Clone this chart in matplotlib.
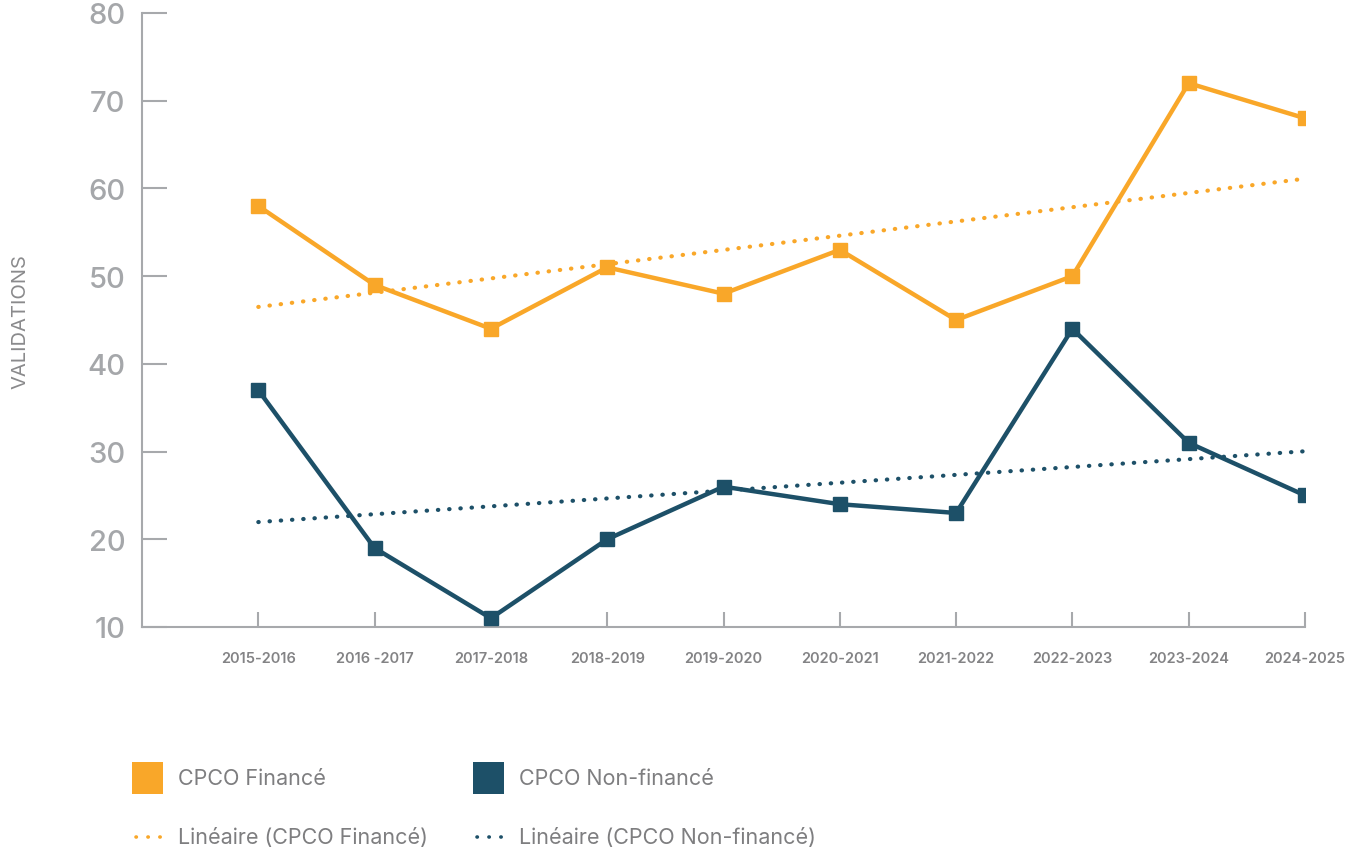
import matplotlib.pyplot as plt
import numpy as np
from matplotlib.patches import Rectangle
from matplotlib.lines import Line2D

# Données
annees = ['2015-2016', '2016 -2017', '2017-2018', '2018-2019', '2019-2020',
          '2020-2021', '2021-2022', '2022-2023', '2023-2024', '2024-2025']
finance = [58, 49, 44, 51, 48, 53, 45, 50, 72, 68]
non_finance = [37, 19, 11, 20, 26, 24, 23, 44, 31, 25]
y_ticks = [10, 20, 30, 40, 50, 60, 70, 80]

ORANGE = '#F9A729'
BLEU = '#1D5068'
GRIS = '#A7A9AC'

W, H = 1352, 854
fig = plt.figure(figsize=(W / 100, H / 100), dpi=100)
ax = fig.add_axes([142 / W, 1 - 628 / H, (1305 - 142) / W, (628 - 14) / H])

x = np.arange(len(annees))

# Séries principales
ax.plot(x, finance, color=ORANGE, lw=3.2, marker='s', ms=10, zorder=4)
ax.plot(x, non_finance, color=BLEU, lw=3.2, marker='s', ms=10, zorder=4)

# Tendances linéaires
dots = (0, (0.1, 2.6))
for serie, couleur in [(finance, ORANGE), (non_finance, BLEU)]:
    a, b = np.polyfit(x, serie, 1)
    ax.plot(x, a * x + b, color=couleur, lw=3, linestyle=dots,
            dash_capstyle='round', zorder=3)

ax.set_xlim(-1, 9)
ax.set_ylim(10, 80)
ax.set_yticks(y_ticks)
ax.set_xticks(x)
ax.set_xticklabels(annees)

for s in ['top', 'right']:
    ax.spines[s].set_visible(False)
for s in ['left', 'bottom']:
    ax.spines[s].set_color(GRIS)
    ax.spines[s].set_linewidth(1.5)

ax.tick_params(axis='y', direction='in', length=18, width=1.5, color=GRIS,
               labelsize=21, labelcolor='#A5A7AA', pad=12)
ax.tick_params(axis='x', direction='in', length=11, width=1.5, color=GRIS,
               labelsize=10.5, labelcolor='#838385', pad=17)
for lab in ax.get_yticklabels():
    lab.set_fontfamily('Inter')
    lab.set_fontweight('medium')
for lab in ax.get_xticklabels():
    lab.set_fontfamily('Inter')
    lab.set_fontweight('semibold')

fig.text(20 / W, 1 - 322 / H, 'VALIDATIONS', rotation=90, ha='center',
         va='center', fontsize=14.5, color='#8A8A8C', family='Inter')

# Légende (placée à la main)
txt = dict(fontsize=15.5, color='#7E7E80', family='Inter', va='center')
entrees = [('CPCO Financé', 'Linéaire (CPCO Financé)', ORANGE, 132),
           ('CPCO Non-financé', 'Linéaire (CPCO Non-financé)', BLEU, 473)]
for nom, tendance, couleur, x0 in entrees:
    fig.patches.append(Rectangle((x0 / W, 1 - 795 / H), 31 / W, 32 / H,
                                 transform=fig.transFigure,
                                 facecolor=couleur, edgecolor='none'))
    fig.text((x0 + 46) / W, 1 - 779 / H, nom, **txt)
    fig.lines.append(Line2D([(x0 + 4) / W, (x0 + 34) / W],
                            [1 - 838 / H, 1 - 838 / H],
                            transform=fig.transFigure, color=couleur, lw=2.6,
                            linestyle=(0, (0.1, 3.2)), dash_capstyle='round'))
    fig.text((x0 + 46) / W, 1 - 838 / H, tendance, **txt)

fig.savefig('out.png', dpi=100)
